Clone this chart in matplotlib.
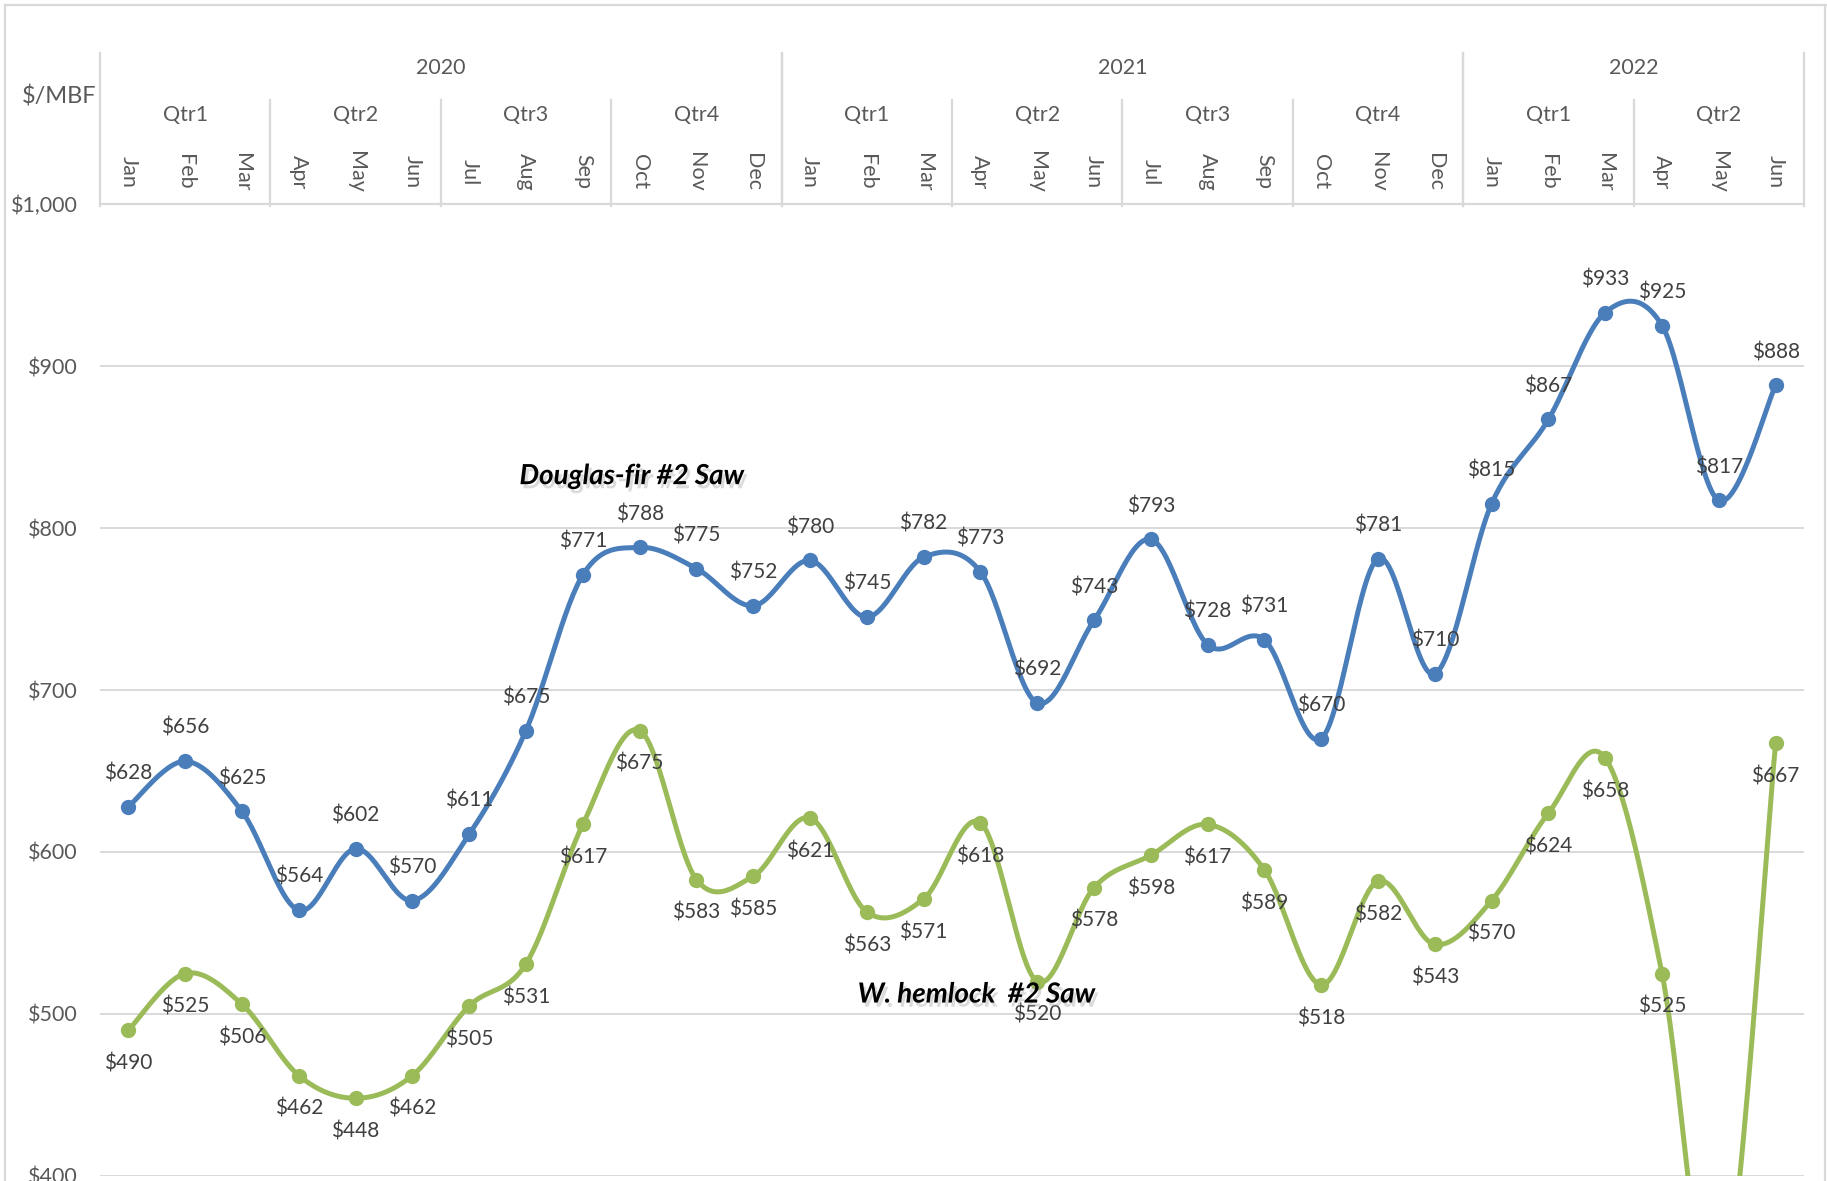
import numpy as np
import matplotlib.pyplot as plt
from matplotlib import patheffects as pe
from matplotlib.transforms import blended_transform_factory

plt.rcParams['font.family'] = ['Lato', 'DejaVu Sans']

# data (monthly prices, $/MBF)
months = ['Jan', 'Feb', 'Mar', 'Apr', 'May', 'Jun', 'Jul', 'Aug', 'Sep', 'Oct', 'Nov', 'Dec',
          'Jan', 'Feb', 'Mar', 'Apr', 'May', 'Jun', 'Jul', 'Aug', 'Sep', 'Oct', 'Nov', 'Dec',
          'Jan', 'Feb', 'Mar', 'Apr', 'May', 'Jun']
quarters = ['Qtr1', 'Qtr2', 'Qtr3', 'Qtr4', 'Qtr1', 'Qtr2', 'Qtr3', 'Qtr4', 'Qtr1', 'Qtr2']
years = ['2020', '2021', '2022']
months_per_year = [12, 12, 6]

douglas_fir = [628, 656, 625, 564, 602, 570, 611, 675, 771, 788, 775, 752,
               780, 745, 782, 773, 692, 743, 793, 728, 731, 670, 781, 710,
               815, 867, 933, 925, 817, 888]
hemlock = [490, 525, 506, 462, 448, 462, 505, 531, 617, 675, 583, 585,
           621, 563, 571, 618, 520, 578, 598, 617, 589, 518, 582, 543,
           570, 624, 658, 525, 310, 667]  # May 2022 falls below the axis (estimated)

yticks = [400, 500, 600, 700, 800, 900, 1000]

blue = '#4A7EBB'
green = '#9BBB59'
grid_col = '#D9D9D9'
text_col = '#595959'
label_col = '#404040'


def smooth(y, n=30):
    # Excel-style smoothed line: cubic bezier with catmull-rom control points
    x = np.arange(len(y), dtype=float)
    y = np.asarray(y, dtype=float)
    pts = np.column_stack([x, y])
    out = []
    t = np.linspace(0, 1, n)[:, None]
    for i in range(len(pts) - 1):
        p0 = pts[i - 1] if i > 0 else pts[i]
        p1 = pts[i]
        p2 = pts[i + 1]
        p3 = pts[i + 2] if i + 2 < len(pts) else pts[i + 1]
        c1 = p1 + (p2 - p0) / 6
        c2 = p2 - (p3 - p1) / 6
        seg = ((1 - t) ** 3) * p1 + 3 * ((1 - t) ** 2) * t * c1 + 3 * (1 - t) * t ** 2 * c2 + t ** 3 * p2
        out.append(seg)
    out = np.vstack(out)
    return out[:, 0], out[:, 1]


W, H = 1827, 1181
fig = plt.figure(figsize=(W / 100, H / 100), dpi=100)
ax = fig.add_axes([100 / W, 1 - 1176 / H, (1804 - 100) / W, (1176 - 204) / H])

n = len(months)
ax.set_xlim(-0.5, n - 0.5)
ax.set_ylim(400, 1000)

for v in yticks:
    ax.axhline(v, color=grid_col, lw=1.4, zorder=1)
for s in ax.spines.values():
    s.set_visible(False)
ax.set_xticks([])
ax.set_yticks(yticks)
ax.set_yticklabels(['${:,}'.format(v) for v in yticks], fontsize=15.5, color=text_col)
ax.tick_params(axis='y', length=0, pad=16)

idx = np.arange(n)
for vals, col, off in [(douglas_fir, blue, 24), (hemlock, green, -24)]:
    sx, sy = smooth(vals)
    ax.plot(sx, sy, color=col, lw=3.6, zorder=3, solid_capstyle='round')
    ax.plot(idx, vals, 'o', color=col, ms=10, zorder=4)
    for i, v in enumerate(vals):
        if v < 400:
            continue
        ax.annotate('${}'.format(v), (i, v), xytext=(0, off), textcoords='offset points',
                    ha='center', va='center', fontsize=15, color=label_col, zorder=5)

# series names with soft shadow
shadow = [pe.SimplePatchShadow(offset=(2, -3), shadow_rgbFace='#999999', alpha=0.35), pe.Normal()]
ax.text(8.86, 832, 'Douglas-fir #2 Saw', fontsize=20, fontweight='bold', fontstyle='italic',
        ha='center', va='center', color='black', path_effects=shadow, zorder=6)
ax.text(14.93, 512, 'W. hemlock  #2 Saw', fontsize=20, fontweight='bold', fontstyle='italic',
        ha='center', va='center', color='black', path_effects=shadow, zorder=6)

# multi-level category header above the plot
tr = blended_transform_factory(ax.transData, fig.transFigure)


def fy(px):
    return 1 - px / H


ax.plot([-0.5, n - 0.5], [fy(204)] * 2, transform=tr, color=grid_col, lw=1.6, clip_on=False)

start = 0
for yr, cnt in zip(years, months_per_year):
    for b in (start - 0.5, start + cnt - 0.5):
        ax.plot([b, b], [fy(53), fy(206)], transform=tr, color=grid_col, lw=1.6, clip_on=False)
    ax.text(start + (cnt - 1) / 2, fy(68), yr, transform=tr, ha='center', va='center',
            fontsize=15.5, color=text_col)
    start += cnt

for q, name in enumerate(quarters):
    s0 = q * 3
    if q > 0 and s0 % 12 != 0:
        ax.plot([s0 - 0.5, s0 - 0.5], [fy(100), fy(206)], transform=tr, color=grid_col,
                lw=1.6, clip_on=False)
    ax.text(s0 + 1, fy(115), name, transform=tr, ha='center', va='center',
            fontsize=15.5, color=text_col)

for i, m in enumerate(months):
    ax.text(i, fy(172), m, transform=tr, ha='center', va='center', rotation=-90,
            fontsize=15.5, color=text_col)

fig.text(59 / W, fy(97), '$/MBF', ha='center', va='center', fontsize=17, color=text_col)

# chart area border (left and top visible)
fig.add_artist(plt.Line2D([5 / W, 5 / W], [0, fy(5)], color=grid_col, lw=1.6))
fig.add_artist(plt.Line2D([5 / W, 1], [fy(5), fy(5)], color=grid_col, lw=1.6))
fig.add_artist(plt.Line2D([1825 / W, 1825 / W], [0, fy(5)], color=grid_col, lw=1.6))

fig.savefig('out.png', dpi=100)
